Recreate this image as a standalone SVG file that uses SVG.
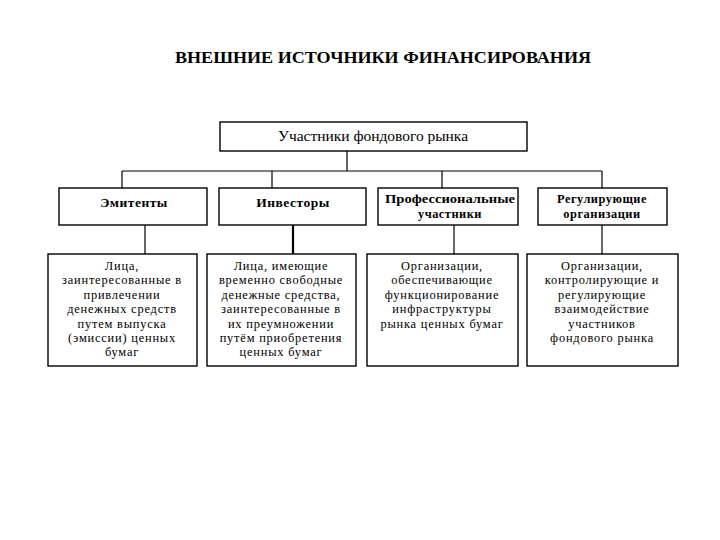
<svg xmlns="http://www.w3.org/2000/svg" width="720" height="540" viewBox="0 0 720 540">
<style>
.box{fill:#fff;stroke:#000;stroke-width:1.4}
.t{font-family:"Liberation Serif","Times New Roman","DejaVu Serif",serif;font-size:12.4px;letter-spacing:0.8px;fill:#000;text-anchor:middle}
.b{font-weight:bold;font-size:12.4px;letter-spacing:0.5px}
.c{stroke:#000;stroke-width:1.2;fill:none}
</style>
<rect width="720" height="540" fill="#fff"/>
<text x="383" y="63" class="t" style="font-weight:bold;font-size:16px;letter-spacing:0" textLength="416" lengthAdjust="spacingAndGlyphs">ВНЕШНИЕ ИСТОЧНИКИ ФИНАНСИРОВАНИЯ</text>
<g id="connectors">
<path class="c" d="M347 151V171M122 171H602M122 171V188M272 171V188M442 171V188M602 171V188"/>
<path class="c" d="M145 225V254M454 225V254M602 225V254"/>
<path class="c" style="stroke-width:2.2" d="M293 225V254"/>
</g>
<g id="root">
<rect class="box" x="220" y="122" width="307" height="29"/>
<text class="t" x="373" y="141" style="font-size:14px;letter-spacing:0" textLength="190" lengthAdjust="spacingAndGlyphs">Участники  фондового рынка</text>
</g>
<g id="emitenty">
<rect class="box" x="59" y="188" width="148" height="37"/>
<text class="t b" x="134" y="206.5" style="font-size:13.5px">Эмитенты</text>
</g>
<g id="investory">
<rect class="box" x="219" y="188" width="147" height="37"/>
<text class="t b" x="293" y="206.5" style="font-size:13.5px">Инвесторы</text>
</g>
<g id="prof">
<rect class="box" x="378" y="188" width="140" height="37"/>
<text class="t b" x="450" y="203" style="letter-spacing:0" textLength="130" lengthAdjust="spacingAndGlyphs">Профессиональные</text>
<text class="t b" x="450" y="217.5">участники</text>
</g>
<g id="reg">
<rect class="box" x="538" y="188" width="129" height="37"/>
<text class="t b" x="602" y="203">Регулирующие</text>
<text class="t b" x="602" y="217.5">организации</text>
</g>
<g id="emitenty-desc">
<rect class="box" x="48" y="254" width="149" height="112"/>
<text class="t" x="122" y="270">Лица,</text>
<text class="t" x="122" y="284.4">заинтересованные в</text>
<text class="t" x="122" y="298.8">привлечении</text>
<text class="t" x="122" y="313.2">денежных средств</text>
<text class="t" x="122" y="327.6">путем выпуска</text>
<text class="t" x="122" y="342">(эмиссии) ценных</text>
<text class="t" x="122" y="356.4">бумаг</text>
</g>
<g id="investory-desc">
<rect class="box" x="207" y="254" width="149" height="112"/>
<text class="t" x="281" y="270">Лица, имеющие</text>
<text class="t" x="281" y="284.4">временно свободные</text>
<text class="t" x="281" y="298.8">денежные средства,</text>
<text class="t" x="281" y="313.2">заинтересованные в</text>
<text class="t" x="281" y="327.6">их преумножении</text>
<text class="t" x="281" y="342">путём приобретения</text>
<text class="t" x="281" y="356.4">ценных бумаг</text>
</g>
<g id="prof-desc">
<rect class="box" x="367" y="254" width="151" height="112"/>
<text class="t" x="442" y="270">Организации,</text>
<text class="t" x="442" y="284.4">обеспечивающие</text>
<text class="t" x="442" y="298.8">функционирование</text>
<text class="t" x="442" y="313.2">инфраструктуры</text>
<text class="t" x="442" y="327.6">рынка ценных бумаг</text>
</g>
<g id="reg-desc">
<rect class="box" x="527" y="254" width="151" height="112"/>
<text class="t" x="602" y="270">Организации,</text>
<text class="t" x="602" y="284.4">контролирующие и</text>
<text class="t" x="602" y="298.8">регулирующие</text>
<text class="t" x="602" y="313.2">взаимодействие</text>
<text class="t" x="602" y="327.6">участников</text>
<text class="t" x="602" y="342">фондового рынка</text>
</g>
</svg>
